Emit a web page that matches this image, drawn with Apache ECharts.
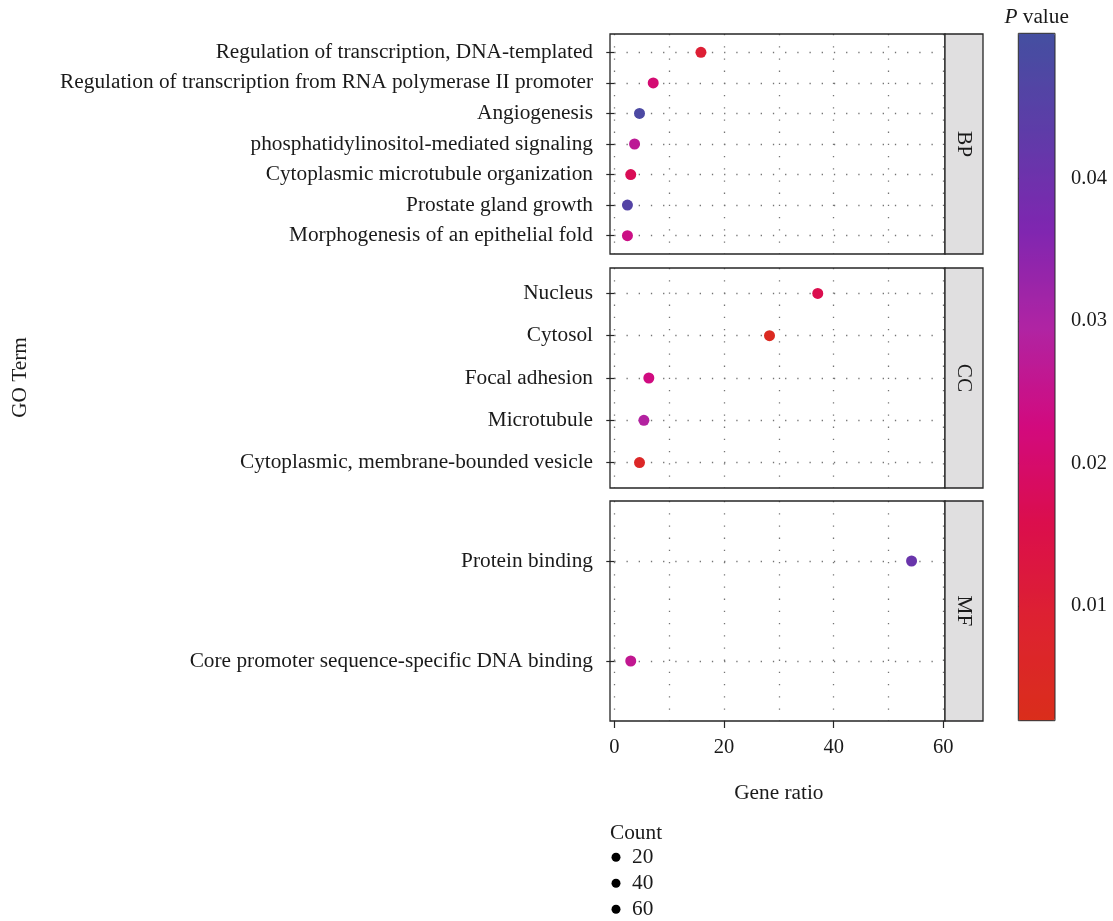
<!DOCTYPE html>
<html><head><meta charset="utf-8">
<script src="https://cdn.jsdelivr.net/npm/echarts@6/dist/echarts.min.js"></script>
<style>html,body{margin:0;padding:0;background:#fff}#c{width:1113px;height:921px}</style>
</head><body><div id="c"></div>
<script>
// ---------------- data ----------------
const panels = ['BP', 'CC', 'MF'];

const bpTerms = ['Regulation of transcription, DNA-templated',
  'Regulation of transcription from RNA polymerase II promoter',
  'Angiogenesis',
  'phosphatidylinositol-mediated signaling',
  'Cytoplasmic microtubule organization',
  'Prostate gland growth',
  'Morphogenesis of an epithelial fold'];
const bpRatio = [15.8, 7.1, 4.6, 3.7, 3.0, 2.4, 2.4];
const bpP = [0.010, 0.021, 0.048, 0.027, 0.017, 0.046, 0.024];

const ccTerms = ['Nucleus', 'Cytosol', 'Focal adhesion', 'Microtubule',
  'Cytoplasmic, membrane-bounded vesicle'];
const ccRatio = [37.1, 28.3, 6.3, 5.4, 4.6];
const ccP = [0.016, 0.004, 0.023, 0.029, 0.006];

const mfTerms = ['Protein binding', 'Core promoter sequence-specific DNA binding'];
const mfRatio = [54.2, 3.0];
const mfP = [0.041, 0.026];

const xTicks = [0, 20, 40, 60];
const pTicks = [0.01, 0.02, 0.03, 0.04];
const pRange = [0.00195, 0.0502];
const countLegend = [20, 40, 60];

// ---------------- layout / style ----------------
const FONT = 'Liberation Serif';
const FS = 21.3;
const TXT = '#1a1a1a';
const frameL = 610, frameR = 945, stripW = 38, frameH = 220;
const frameTops = [34, 268, 501];
const xMin = -0.78, xMax = 60.3;
const dataL = frameL + (0 - xMin) / (xMax - xMin) * (frameR - frameL);
const dataW = 60 / (xMax - xMin) * (frameR - frameL);
const dotted = { color: '#747474', width: 1.3, type: [1.3, 10.9] };

const termSets = [bpTerms, ccTerms, mfTerms];
const ratioSets = [bpRatio, ccRatio, mfRatio];
const pSets = [bpP, ccP, mfP];

const grid = [], xAxis = [], yAxis = [], series = [], graphic = [];

// frame grids (0..2)
panels.forEach((p, i) => {
  grid.push({ left: frameL, top: frameTops[i], width: frameR - frameL, height: frameH,
    show: true, backgroundColor: 'transparent', borderColor: '#262626', borderWidth: 1.3, z: 3 });
});
// data grids (3..5)
panels.forEach((p, i) => {
  const n = termSets[i].length;
  const u = frameH / (n - 1 + 1.2);
  grid.push({ left: dataL, width: dataW, top: frameTops[i] + 0.6 * u, height: (n - 1) * u, show: false });
});
// colorbar grid (6)
const cb = { left: 1018.3, top: 33.3, width: 36.7, height: 687.4 };
grid.push({ left: cb.left, top: cb.top, width: cb.width, height: cb.height, show: true,
  backgroundColor: 'transparent', borderColor: '#2b2b2b', borderWidth: 1, z: 10 });

// frame axes
panels.forEach((p, i) => {
  xAxis.push({ type: 'value', gridIndex: i, min: xMin, max: xMax, splitNumber: 6,
    axisLine: { show: false }, axisTick: { show: false }, axisLabel: { show: false },
    splitLine: { show: true, showMinLine: false, showMaxLine: false, lineStyle: dotted } });
  yAxis.push({ type: 'value', gridIndex: i, show: false, min: 0, max: 1, splitLine: { show: false } });
});
// data axes
panels.forEach((p, i) => {
  const n = termSets[i].length;
  const u = frameH / (n - 1 + 1.2);
  const last = i === panels.length - 1;
  xAxis.push({ type: 'value', gridIndex: 3 + i, min: 0, max: 60, interval: 20,
    show: last, position: 'bottom', offset: 0.6 * u,
    axisLine: { show: false },
    axisTick: { show: true, length: 7, lineStyle: { color: '#262626', width: 1.2 } },
    axisLabel: { show: true, margin: 16, fontFamily: FONT, fontSize: 20.5, color: TXT,
      formatter: v => xTicks.indexOf(v) >= 0 ? String(v) : '' },
    splitLine: { show: false },
    name: last ? 'Gene ratio' : '', nameLocation: 'middle', nameGap: 62,
    nameTextStyle: { fontFamily: FONT, fontSize: FS, color: TXT } });
  yAxis.push({ type: 'category', gridIndex: 3 + i, data: termSets[i], inverse: true,
    boundaryGap: false, offset: dataL - frameL,
    axisLine: { show: false },
    axisTick: { show: true, interval: 0, length: 8, lineStyle: { color: '#262626', width: 1.2 } },
    axisLabel: { interval: 0, margin: 17, fontFamily: FONT, fontSize: FS, color: TXT },
    splitLine: { show: true, interval: 0, lineStyle: dotted } });
});
// colorbar axes
xAxis.push({ type: 'value', gridIndex: 6, show: false });
yAxis.push({ type: 'value', gridIndex: 6, min: pRange[0], max: pRange[1], position: 'right',
  axisLine: { show: false }, splitLine: { show: false },
  axisTick: { show: true, customValues: pTicks, length: 6, lineStyle: { color: '#2b2b2b', width: 1.2 } },
  axisLabel: { customValues: pTicks, margin: 16, fontFamily: FONT, fontSize: 20.5, color: TXT,
    formatter: v => pTicks.some(t => Math.abs(t - v) < 1e-9) ? v.toFixed(2) : '' } });

// series
panels.forEach((p, i) => {
  series.push({ type: 'scatter', name: p, xAxisIndex: 3 + i, yAxisIndex: 3 + i,
    symbolSize: 11, z: 5, itemStyle: { opacity: 1 },
    data: termSets[i].map((t, k) => [ratioSets[i][k], t, pSets[i][k]]) });
});

// strips
panels.forEach((p, i) => {
  graphic.push({ type: 'rect', shape: { x: frameR, y: frameTops[i], width: stripW, height: frameH },
    style: { fill: '#e0dfe0', stroke: '#262626', lineWidth: 1.3 }, z: 4 });
  graphic.push({ type: 'text', x: frameR + stripW / 2, y: frameTops[i] + frameH / 2, rotation: -Math.PI / 2,
    style: { text: p, fontFamily: FONT, fontSize: FS, fill: TXT, textAlign: 'center', textVerticalAlign: 'middle' }, z: 5 });
});
// GO Term
graphic.push({ type: 'text', x: 20, y: (frameTops[0] + frameTops[2] + frameH) / 2, rotation: Math.PI / 2,
  style: { text: 'GO Term', fontFamily: FONT, fontSize: FS, fill: TXT, textAlign: 'center', textVerticalAlign: 'middle' } });
// P value title
graphic.push({ type: 'text', x: cb.left + cb.width / 2, y: 17,
  style: { text: '{i|P} value', fontFamily: FONT, fontSize: FS, fill: TXT, textAlign: 'center', textVerticalAlign: 'middle',
    rich: { i: { fontStyle: 'italic', fontFamily: FONT, fontSize: FS, fill: TXT } } } });
// Count legend
graphic.push({ type: 'text', x: 610, y: 833,
  style: { text: 'Count', fontFamily: FONT, fontSize: FS, fill: TXT, textVerticalAlign: 'middle' } });
countLegend.forEach((c, k) => {
  const y = 857.3 + k * 26;
  graphic.push({ type: 'circle', shape: { cx: 616, cy: y, r: 4.5 }, style: { fill: '#000' } });
  graphic.push({ type: 'text', x: 632, y: y,
    style: { text: String(c), fontFamily: FONT, fontSize: FS, fill: TXT, textVerticalAlign: 'middle' } });
});

const option = {
  backgroundColor: '#fff',
  animation: false,
  grid, xAxis, yAxis, series, graphic,
  visualMap: [{
    type: 'continuous', min: pRange[0], max: pRange[1], dimension: 2, seriesIndex: [0, 1, 2],
    orient: 'vertical', left: cb.left, top: cb.top, itemWidth: cb.width, itemHeight: cb.height,
    padding: 0, calculable: false, text: null, showLabel: false, hoverLink: false,
    inRange: { color: ['#da2e1b', '#dd2230', '#db0e4c', '#d20a7e', '#b024a3', '#7f26b0', '#5e3ca8', '#444fa0'] }
  }]
};
const chart = echarts.init(document.getElementById('c'), null, { renderer: 'canvas' });
chart.setOption(option);
</script></body></html>
